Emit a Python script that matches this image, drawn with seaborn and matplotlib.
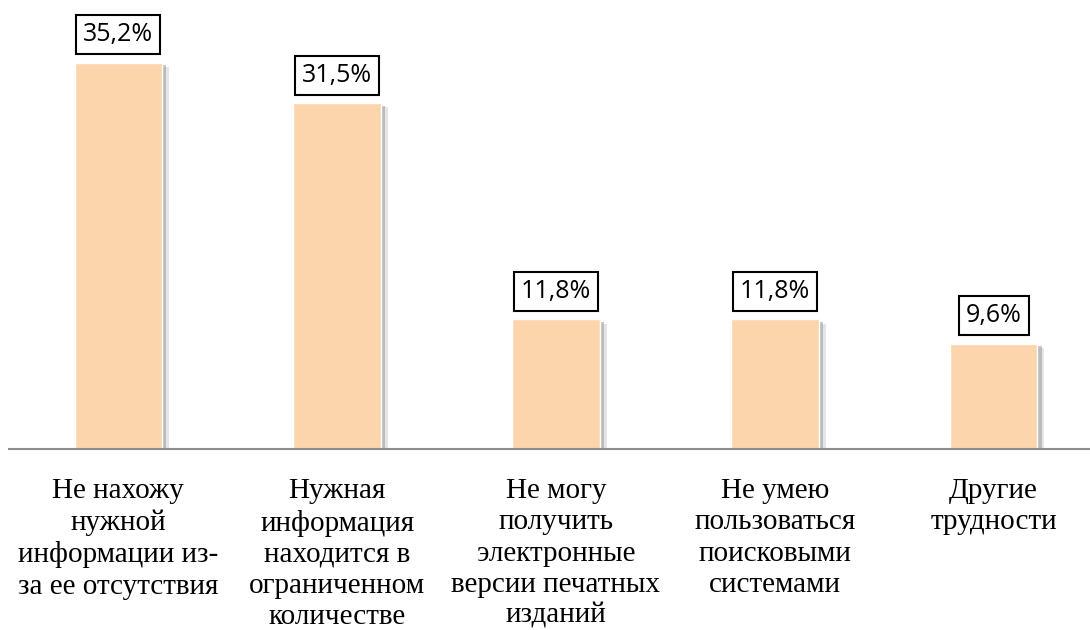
import matplotlib
matplotlib.use("Agg")
import matplotlib.pyplot as plt
import matplotlib.patheffects as pe
import seaborn as sns
import pandas as pd

categories = [
    "Не нахожу\nнужной\nинформации из-\nза ее отсутствия",
    "Нужная\nинформация\nнаходится в\nограниченном\nколичестве",
    "Не могу\nполучить\nэлектронные\nверсии печатных\nизданий",
    "Не умею\nпользоваться\nпоисковыми\nсистемами",
    "Другие\nтрудности",
]
values = [35.2, 31.5, 11.8, 11.8, 9.6]
value_labels = ["35,2%", "31,5%", "11,8%", "11,8%", "9,6%"]

sns.set_theme(style="white")
plt.rcParams["font.family"] = ["Liberation Serif", "DejaVu Serif"]

fig = plt.figure(figsize=(10.9, 6.3), dpi=100)
ax = fig.add_axes([9 / 1090, 181 / 630, 1094 / 1090, 449 / 630])

df = pd.DataFrame({"cat": categories, "val": values})
sns.barplot(data=df, x="cat", y="val", color="#FDD5AC", saturation=1,
            width=0.4, ax=ax, zorder=3)

for p in ax.patches:
    p.set_path_effects([
        pe.SimplePatchShadow(offset=(5, -3), shadow_rgbFace="#d4d4d4", alpha=0.6),
        pe.SimplePatchShadow(offset=(3, -2), shadow_rgbFace="#a0a0a0", alpha=0.6),
        pe.Normal(),
    ])

ax.set_ylim(0, 40.9)
ax.set_xlim(-0.5, 4.5)
ax.set_xlabel("")
ax.set_ylabel("")
ax.set_yticks([])
for s in ["top", "right", "left"]:
    ax.spines[s].set_visible(False)
ax.spines["bottom"].set_color("#8c8c8c")
ax.spines["bottom"].set_linewidth(1.5)
ax.spines["bottom"].set_zorder(4)
ax.tick_params(axis="x", length=0, pad=21, labelsize=21, colors="#000000")
for t in ax.get_xticklabels():
    t.set_linespacing(1.26)
    t.set_va("top")

for i, (v, lab) in enumerate(zip(values, value_labels)):
    ax.text(i, v + 1.4, lab, ha="center", va="bottom",
            fontsize=18, family=["Open Sans", "DejaVu Sans"], color="#000000",
            bbox=dict(boxstyle="square,pad=0.28", fc="white", ec="black", lw=1.5),
            zorder=5)

fig.savefig("out.png", dpi=100)
